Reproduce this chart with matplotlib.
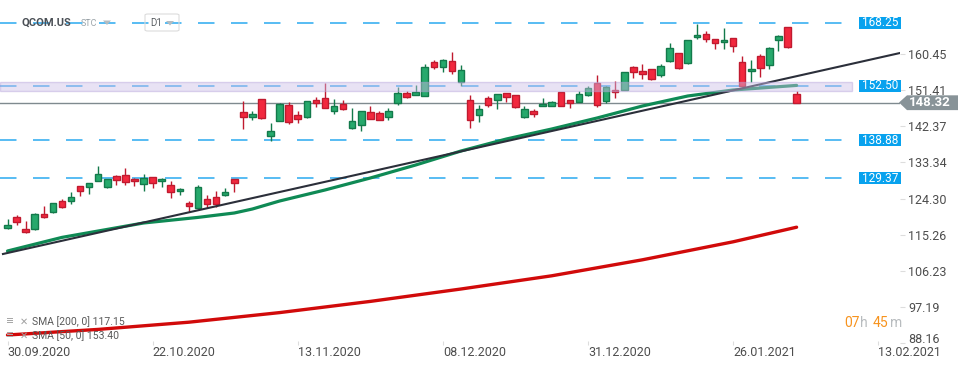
import numpy as np
import matplotlib.pyplot as plt
from matplotlib.patches import Rectangle, Polygon, FancyBboxPatch
from matplotlib.transforms import blended_transform_factory

plt.rcParams['font.family'] = ['Roboto', 'DejaVu Sans']

# daily candles QCOM.US, 30.09.2020 .. 04.02.2021
opens = [116.87, 119.62, 116.77, 116.62, 120.37, 120.87, 123.62, 123.62, 127.37, 127.27,
         128.77, 127.12, 129.87, 130.12, 129.27, 127.87, 129.62, 128.62, 127.62, 126.12,
         123.12, 121.87, 124.12, 124.62, 125.12, 129.12, 145.87, 144.77, 149.12, 140.02,
         143.77, 147.62, 145.12, 144.77, 148.87, 149.37, 146.27, 148.02, 142.02, 142.77,
         145.87, 145.62, 144.62, 148.27, 150.62, 150.27, 150.02, 158.37, 157.27, 158.70,
         153.52, 148.87, 145.27, 149.37, 148.87, 150.62, 150.12, 144.77, 146.12, 147.57,
         147.57, 150.87, 148.87, 148.52, 150.12, 153.12, 148.75, 151.37, 151.52, 157.12,
         156.12, 156.62, 155.12, 158.62, 160.62, 158.12, 164.62, 165.37, 164.12, 163.37,
         164.37, 158.37, 156.12, 159.87, 157.62, 163.87, 167.12, 150.37]
highs = [119.20, 120.20, 118.70, 120.62, 122.45, 123.30, 124.12, 125.87, 127.50, 128.30,
         132.37, 129.30, 130.20, 131.95, 129.40, 130.45, 129.80, 129.40, 128.62, 126.85,
         123.70, 127.62, 125.12, 126.20, 126.87, 129.30, 148.70, 146.20, 149.30, 143.20,
         148.10, 148.37, 146.20, 148.80, 149.70, 153.20, 149.12, 148.87, 146.87, 146.30,
         147.45, 146.20, 146.87, 152.12, 151.12, 152.70, 157.95, 158.95, 159.20, 161.02,
         157.70, 150.20, 147.62, 149.95, 150.50, 150.80, 150.30, 147.45, 146.70, 149.37,
         148.62, 151.00, 149.00, 151.20, 152.45, 155.20, 152.50, 153.70, 156.00, 157.45,
         157.95, 156.75, 157.95, 163.20, 160.75, 164.00, 167.87, 166.20, 164.25, 166.95,
         164.50, 159.95, 158.95, 160.45, 162.10, 165.20, 167.25, 151.20]
lows = [116.70, 117.70, 115.77, 116.50, 119.52, 120.70, 122.02, 122.87, 125.02, 125.52,
        128.60, 126.87, 127.77, 127.77, 127.52, 126.27, 127.02, 127.12, 124.52, 125.27,
        120.87, 121.70, 122.02, 122.27, 124.87, 126.02, 141.70, 143.95, 144.20, 138.77,
        143.60, 143.02, 143.27, 144.52, 147.20, 146.90, 145.52, 146.52, 141.70, 141.27,
        144.10, 143.85, 143.95, 147.77, 149.52, 150.10, 149.90, 156.70, 156.02, 155.52,
        152.52, 142.02, 143.52, 147.20, 146.62, 148.52, 147.02, 144.52, 144.77, 147.40,
        147.40, 147.40, 147.02, 148.35, 150.00, 147.27, 148.20, 149.37, 151.40, 154.52,
        154.12, 154.00, 154.77, 158.50, 156.80, 158.00, 164.12, 163.37, 161.62, 161.62,
        161.02, 152.27, 153.52, 154.77, 156.62, 161.27, 162.02, 148.20]
closes = [117.70, 118.52, 116.02, 120.37, 119.77, 123.12, 122.27, 124.70, 126.27, 128.12,
          130.37, 129.12, 129.02, 128.37, 128.62, 129.45, 128.27, 129.27, 125.87, 126.70,
          122.52, 127.12, 122.87, 123.02, 125.87, 128.12, 144.62, 145.45, 144.45, 141.20,
          147.95, 143.52, 144.27, 148.62, 148.20, 147.02, 147.37, 146.77, 143.70, 146.12,
          144.27, 144.02, 146.12, 150.62, 149.77, 150.87, 157.12, 157.27, 158.95, 156.27,
          156.37, 143.87, 146.62, 147.70, 150.37, 149.62, 147.27, 146.62, 145.52, 148.07,
          148.37, 147.57, 148.27, 150.40, 151.90, 147.82, 152.32, 151.02, 155.87, 156.02,
          155.52, 154.12, 157.37, 161.87, 156.95, 163.87, 165.12, 164.12, 163.12, 163.87,
          162.37, 152.52, 156.70, 156.87, 161.95, 164.87, 162.27, 148.32]

# moving averages (bar index, value)
sma50_idx = [0, 6, 10, 15, 21, 25, 27, 30, 35, 40, 45, 50, 55, 60, 65, 70, 75, 80, 87]
sma50 = [111.2, 114.6, 116.2, 118.2, 119.6, 120.7, 121.7, 123.7, 126.45, 129.45,
         132.7, 136.2, 139.2, 141.7, 144.45, 147.45, 149.95, 151.45, 152.6]
sma200_idx = [0, 10, 20, 30, 40, 50, 60, 70, 80, 87]
sma200 = [90.2, 91.6, 93.4, 95.8, 98.6, 101.7, 105.0, 109.0, 113.5, 117.15]

# trend line end points (bar index, price)
trend_x = [-0.5, 98.4]
trend_y = [110.45, 160.7]

levels = [168.25, 152.50, 138.88, 129.37]
zone = (151.28, 153.45)
last_price = 148.32

yticks = [160.45, 151.41, 142.37, 133.34, 124.30, 115.26, 106.23, 97.19, 88.16]
xtick_pos = [0, 16, 32, 48, 64, 80, 96]
xtick_labels = ['30.09.2020', '22.10.2020', '13.11.2020', '08.12.2020',
                '31.12.2020', '26.01.2021', '13.02.2021']

W, H = 970, 368
fig = plt.figure(figsize=(W / 100, H / 100), dpi=100)
ax = fig.add_axes([0, 23 / H, 900 / W, 345 / H])
ax.set_xlim(-0.827, 98.4)
ax.set_ylim(87.7, 173.95)
ax.set_frame_on(False)

def fpx(x, y):
    return x / W, 1 - y / H

# candles
up_fill, up_edge = '#26a96c', '#137a4b'
dn_fill, dn_edge = '#f2283e', '#c01a2f'
x = np.arange(len(opens))
o = np.array(opens); c = np.array(closes)
hi = np.array(highs); lo = np.array(lows)
up = c >= o
edges = np.where(up, up_edge, dn_edge)
fills = np.where(up, up_fill, dn_fill)
ax.vlines(x, lo, hi, colors=edges, linewidth=1, zorder=3)
body = np.maximum(np.abs(c - o), 0.35)
ax.bar(x, body, bottom=np.minimum(o, c), width=0.72, color=fills,
       edgecolor=edges, linewidth=1, zorder=4)

# moving averages and trend line
ax.plot(sma200_idx, sma200, color='#d10a0a', lw=2.4, zorder=5, solid_capstyle='round')
ax.plot(sma50_idx, sma50, color='#0f8a55', lw=2.3, zorder=5, solid_capstyle='round')
ax.plot(trend_x, trend_y, color='#2b2f3a', lw=1.5, zorder=6)

ytr = ax.get_yaxis_transform()

# dashed levels
for lv in levels:
    ax.plot([0, 855 / 900], [lv, lv], transform=ytr, color='#2aaaf0', lw=1.1,
            dashes=(10.8, 10.8), zorder=2)
    ax.add_patch(Rectangle((859 / 900, lv - 1.5), 42 / 900, 3.0, transform=ytr,
                           facecolor='#08a2ee', edgecolor='none', clip_on=False, zorder=8))
    ax.text(880 / 900, lv, f'{lv:.2f}', transform=ytr, color='white', fontsize=8.5,
            ha='center', va='center', clip_on=False, zorder=9)

# zone box
ax.add_patch(Rectangle((0, zone[0]), 851.7 / 900, zone[1] - zone[0], transform=ytr,
                       facecolor='#cdbfe8', alpha=0.45, edgecolor='#b7a4dc', lw=1, zorder=7))

# last price line and marker
ax.plot([0, 1], [last_price, last_price], transform=ytr, color='#7f8a8f', lw=1, zorder=2)
btr = blended_transform_factory(fig.transFigure, ax.transData)
ax.add_patch(Polygon([(899 / W, last_price), (907 / W, last_price + 1.8),
                      (958 / W, last_price + 1.8), (958 / W, last_price - 1.9),
                      (907 / W, last_price - 1.9)], closed=True, transform=btr,
                     facecolor='#889398', edgecolor='none', clip_on=False, zorder=8))
ax.text(930 / W, last_price - 0.1, f'{last_price:.2f}', transform=btr, color='white',
        fontsize=9.5, weight='bold', ha='center', va='center', clip_on=False, zorder=9)

# axes ticks
ax.yaxis.tick_right()
ax.set_yticks(yticks)
ax.set_yticklabels([f'{v:.2f}' for v in yticks[:-1]] + [''])
ax.tick_params(axis='y', length=3.5, width=0.8, color='#dddddd', pad=2.5,
               labelsize=9, labelcolor='#4d4d4d')
# lowest price label sits a little higher, clear of the date row
ax.text(1 + 8.3 / 900, yticks[-1] + 1.0, f'{yticks[-1]:.2f}', transform=ytr,
        fontsize=9, color='#4d4d4d', va='center', ha='left', clip_on=False)
ax.set_xticks(xtick_pos)
ax.set_xticklabels(xtick_labels)
plt.setp(ax.get_xticklabels(), ha='left')
ax.tick_params(axis='x', direction='in', length=3, width=0.8, color='#dddddd', pad=1,
               labelsize=9, labelcolor='#4d4d4d')

# header
fig.text(*fpx(22, 23), 'QCOM.US', fontsize=8, weight='bold', color='#4a4f55', va='center')
fig.text(*fpx(81, 24), 'STC', fontsize=6.5, color='#9aa3a8', va='center')
fig.patches.append(Polygon([fpx(103, 20.5), fpx(111, 20.5), fpx(107, 25)], closed=True,
                           transform=fig.transFigure, facecolor='#b5bcc0', edgecolor='none'))
fig.patches.append(FancyBboxPatch(fpx(145, 31), 34 / W, 17 / H,
                                  boxstyle='round,pad=0,rounding_size=0.003',
                                  transform=fig.transFigure, fill=False,
                                  edgecolor='#dcdcdc', lw=0.8))
fig.text(*fpx(150, 23.5), 'D1', fontsize=7, color='#5a5f63', va='center')
fig.patches.append(Polygon([fpx(166, 21), fpx(174, 21), fpx(170, 25.5)], closed=True,
                           transform=fig.transFigure, facecolor='#b5bcc0', edgecolor='none'))

# indicator legend
for yy, label in [(322, 'SMA [200, 0] 117.15'), (336, 'SMA [50, 0] 153.40')]:
    for k in range(3):
        fig.patches.append(Rectangle(fpx(7, yy - 3 + 2.2 * k), 6 / W, 1.2 / H,
                                     transform=fig.transFigure, facecolor='#a8a8a8',
                                     edgecolor='none', zorder=10))
    fig.text(*fpx(20, yy), '✕', fontsize=7, weight='bold', color='#a0a0a0', va='center',
             family=['DejaVu Sans'])
    fig.text(*fpx(32, yy), label, fontsize=7.5, color='#5a5a5a', va='center')

# countdown
for xx, s, col in [(844, '07', '#f7931e'), (860.5, 'h', '#b8bcbf'),
                   (872.5, '45', '#f7931e'), (890, 'm', '#b8bcbf')]:
    fig.text(*fpx(xx, 323), s, fontsize=10, color=col, va='center')

fig.savefig('out.png', dpi=100)
